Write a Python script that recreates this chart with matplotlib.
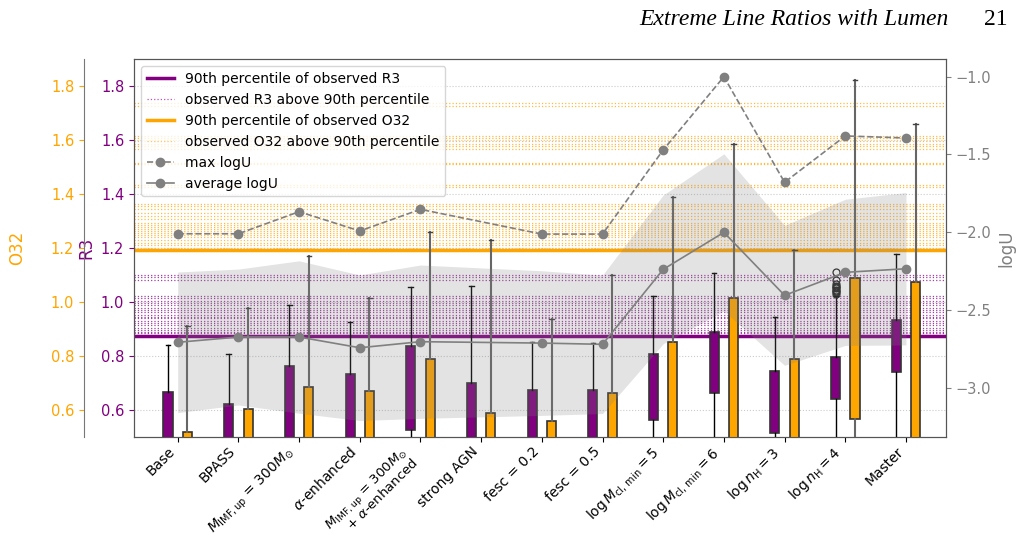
import numpy as np
import matplotlib.pyplot as plt

# ---- data ----
labels = ["Base", "BPASS",
          r"$M_{\rm IMF,up}$ = 300$M_{\odot}$",
          r"$\alpha$-enhanced",
          r"$M_{\rm IMF,up}$ = 300$M_{\odot}$" + "\n+ " + r"$\alpha$-enhanced",
          "strong AGN", "fesc = 0.2", "fesc = 0.5",
          r"$\log M_{\rm cl,\,min} = 5$", r"$\log M_{\rm cl,\,min} = 6$",
          r"$\log n_{\rm H} = 3$", r"$\log n_{\rm H} = 4$", "Master"]

# R3 box summary (q1 below 0.5 are clipped by the axis)
r3_q1 = [0.45, 0.45, 0.45, 0.45, 0.526, 0.45, 0.45, 0.45, 0.563, 0.661, 0.514, 0.638, 0.740]
r3_q3 = [0.667, 0.621, 0.762, 0.731, 0.837, 0.698, 0.673, 0.673, 0.805, 0.887, 0.745, 0.794, 0.932]
r3_hi = [0.840, 0.805, 0.988, 0.924, 1.057, 1.059, 0.850, 0.847, 1.022, 1.108, 0.943, 1.022, 1.179]
r3_lo = [0.30] * 13
r3_fliers_n4 = [1.111, 1.080, 1.066, 1.060, 1.055, 1.050, 1.045, 1.040, 1.035, 1.030]

# O32 box summary
o32_q1 = [0.45, 0.45, 0.45, 0.45, 0.45, 0.45, 0.45, 0.45, 0.45, 0.45, 0.45, 0.564, 0.45]
o32_q3 = [0.516, 0.601, 0.683, 0.668, 0.790, 0.587, 0.557, 0.662, 0.852, 1.015, 0.789, 1.088, 1.074]
o32_hi = [0.910, 0.976, 1.170, 1.014, 1.259, 1.229, 0.938, 1.098, 1.390, 1.587, 1.194, 1.825, 1.660]
o32_lo = [0.30] * 13

# observed values above the 90th percentile
r3_p90 = 0.872
r3_obs = [1.101, 1.094, 1.080, 1.022, 1.015, 1.005, 0.996, 0.988, 0.979, 0.969,
          0.961, 0.953, 0.944, 0.939, 0.929, 0.921, 0.914, 0.905, 0.896, 0.889, 0.883]
o32_p90 = 1.191
o32_obs = [1.738, 1.728, 1.617, 1.609, 1.596, 1.587, 1.578, 1.568, 1.516, 1.510,
           1.432, 1.426, 1.364, 1.356, 1.343, 1.331, 1.319, 1.306, 1.294, 1.284,
           1.278, 1.269, 1.263, 1.257, 1.248, 1.239, 1.230, 1.220, 1.210, 1.201]

# logU per model (strong AGN has none)
logu_idx = [0, 1, 2, 3, 4, 6, 7, 8, 9, 10, 11, 12]
max_logu = [-2.01, -2.01, -1.868, -1.992, -1.853, -2.012, -2.012, -1.471, -1.0, -1.679, -1.381, -1.394]
avg_logu = [-2.708, -2.674, -2.674, -2.743, -2.704, -2.713, -2.721, -2.239, -2.001, -2.406, -2.258, -2.235]
std_logu = [0.452, 0.437, 0.49, 0.468, 0.493, 0.465, 0.445, 0.478, 0.505, 0.45, 0.47, 0.49]

PURPLE = "purple"
ORANGE = "orange"
GREY = "gray"

fig = plt.figure(figsize=(10.16, 5.39), dpi=100)
ax = fig.add_axes([0.1319, 0.1898, 0.7992, 0.7002])
ax_o = ax.twinx()
ax_u = ax.twinx()

x = np.arange(len(labels))

# reference lines
for v in r3_obs:
    ax.axhline(v, color=PURPLE, ls=":", lw=0.9, alpha=0.75, zorder=1)
for v in o32_obs:
    ax.axhline(v, color=ORANGE, ls=":", lw=0.9, alpha=0.75, zorder=1)
ax.axhline(r3_p90, color=PURPLE, lw=2.5, zorder=2)
ax.axhline(o32_p90, color=ORANGE, lw=2.5, zorder=2)


def make_stats(q1, q3, lo, hi):
    return [dict(med=b, q1=a, q3=b, whislo=l, whishi=h, fliers=[])
            for a, b, l, h in zip(q1, q3, lo, hi)]


r3_stats = make_stats(r3_q1, r3_q3, r3_lo, r3_hi)
r3_stats[11]["fliers"] = r3_fliers_n4
o32_stats = make_stats(o32_q1, o32_q3, o32_lo, o32_hi)

ax.bxp(r3_stats, positions=x - 0.16, widths=0.15, patch_artist=True, manage_ticks=False,
       boxprops=dict(facecolor=PURPLE, edgecolor="#333333", linewidth=1.2),
       whiskerprops=dict(color="black", linewidth=1.0),
       capprops=dict(color="black", linewidth=1.0),
       medianprops=dict(linewidth=0),
       flierprops=dict(marker="o", markerfacecolor="none", markeredgecolor="#222222",
                       markersize=5, markeredgewidth=0.9),
       zorder=3)
ax.bxp(o32_stats, positions=x + 0.16, widths=0.15, patch_artist=True, manage_ticks=False,
       boxprops=dict(facecolor=ORANGE, edgecolor="#333333", linewidth=1.2),
       whiskerprops=dict(color="#666666", linewidth=1.5),
       capprops=dict(color="#444444", linewidth=1.0),
       medianprops=dict(linewidth=0),
       zorder=3)

ax.set_xlim(-0.72, 12.66)
ax.set_ylim(0.5, 1.9)
ax.set_xticks(x)
ax.set_xticklabels(labels, rotation=45, ha="right", fontsize=10)
two_line = ax.get_xticklabels()[4]
two_line.set_linespacing(0.85)
two_line.set_fontsize(9.5)
ax.tick_params(axis="x", pad=2)
ax.set_yticks(np.arange(0.6, 1.81, 0.2))
ax.tick_params(axis="y", colors=PURPLE, labelsize=10.5)
ax.set_ylabel("R3", color=PURPLE, fontsize=12)
ax.grid(axis="y", color="#cccccc", ls=":", lw=0.8)

# O32 axis on an offset left spine
ax_o.set_ylim(0.5, 1.9)
ax_o.spines["left"].set_position(("axes", -0.0616))
ax_o.spines["left"].set_visible(True)
for s in ["right", "top", "bottom"]:
    ax_o.spines[s].set_visible(False)
ax_o.yaxis.set_ticks_position("left")
ax_o.yaxis.set_label_position("left")
ax_o.set_yticks(np.arange(0.6, 1.81, 0.2))
ax_o.tick_params(axis="y", colors=ORANGE, labelsize=10.5)
ax_o.set_ylabel("O32", color=ORANGE, fontsize=12, labelpad=18)
ax_o.spines["left"].set_color("#777777")

# logU axis
xu = x[logu_idx]
avg = np.array(avg_logu)
std = np.array(std_logu)
ax_u.fill_between(xu, avg - std, avg + std, color=GREY, alpha=0.22, lw=0)
ax_u.plot(xu, max_logu, "--o", color=GREY, lw=1.2, ms=6, label="max logU")
ax_u.plot(xu, avg_logu, "-o", color=GREY, lw=1.2, ms=6, label="average logU")
ax_u.set_ylim(-3.315, -0.888)
ax_u.set_yticks([-3.0, -2.5, -2.0, -1.5, -1.0])
ax_u.tick_params(axis="y", colors=GREY, labelsize=10.5)
ax_u.set_ylabel("logU", color=GREY, fontsize=12)

for a in (ax, ax_u):
    for s in a.spines.values():
        s.set_color("#555555")

handles = [
    plt.Line2D([], [], color=PURPLE, lw=2.5),
    plt.Line2D([], [], color="#c050c0", ls=":", lw=0.9),
    plt.Line2D([], [], color=ORANGE, lw=2.5),
    plt.Line2D([], [], color="#ffc860", ls=":", lw=0.9),
]
names = ["90th percentile of observed R3", "observed R3 above 90th percentile",
         "90th percentile of observed O32", "observed O32 above 90th percentile"]
h2, l2 = ax_u.get_legend_handles_labels()
ax_u.legend(handles + h2, names + l2, loc="upper left", fontsize=10)

# page header
fig.text(0.629, 0.9536, "Extreme Line Ratios with Lumen", family="Liberation Serif",
         style="italic", fontsize=17, va="baseline")
fig.text(0.992, 0.9536, "21", family="Liberation Serif", fontsize=17,
         va="baseline", ha="right")

fig.savefig("out.png", dpi=100)
